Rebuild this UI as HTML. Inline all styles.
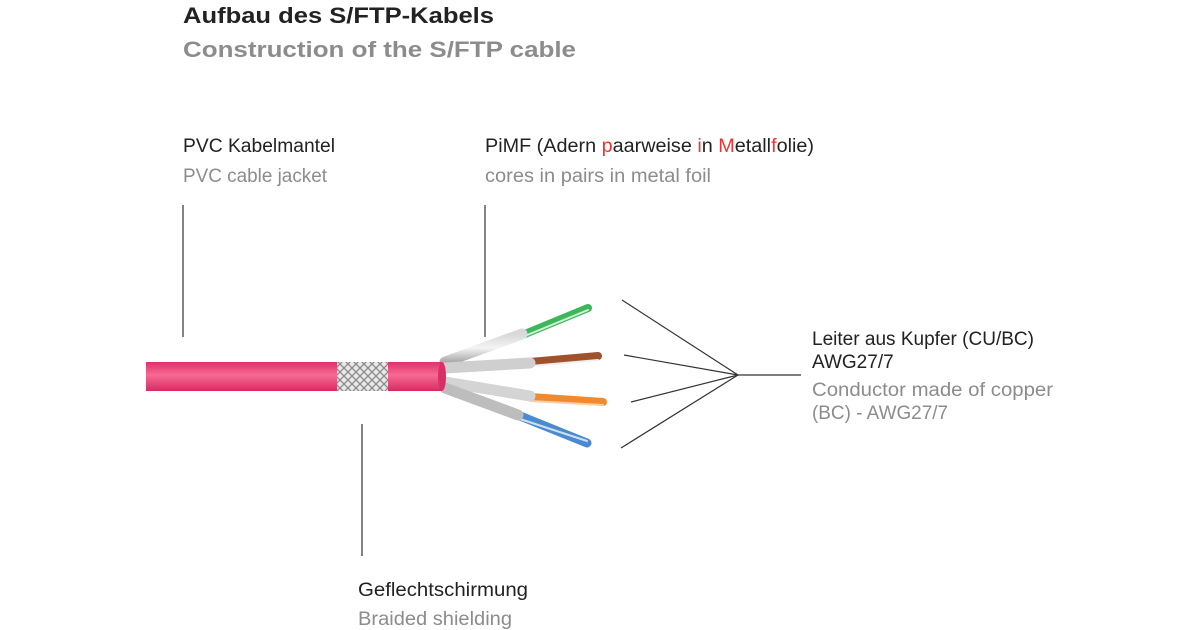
<!DOCTYPE html>
<html><head><meta charset="utf-8"><style>
html,body{margin:0;padding:0;background:#fff;width:1200px;height:630px;overflow:hidden}
text{font-family:"Liberation Sans",sans-serif}
</style></head><body>
<svg width="1200" height="630" viewBox="0 0 1200 630" xmlns="http://www.w3.org/2000/svg">
<defs>
<linearGradient id="pk" x1="0" y1="0" x2="0" y2="1">
<stop offset="0" stop-color="#e0306a"/><stop offset="0.45" stop-color="#f76a92"/><stop offset="1" stop-color="#d82a62"/>
</linearGradient>
<linearGradient id="sv" x1="0" y1="0" x2="0" y2="1">
<stop offset="0" stop-color="#d8d8d8"/><stop offset="0.5" stop-color="#f4f4f4"/><stop offset="1" stop-color="#a8a8a8"/>
</linearGradient>
<pattern id="br" width="8" height="8" patternUnits="userSpaceOnUse">
<rect width="8" height="8" fill="#e8e8e8"/><path d="M0 0L8 8M8 0L0 8" stroke="#8a8a8a" stroke-width="1.3"/>
</pattern>
</defs>
<text x="183" y="23" font-size="22" font-weight="bold" fill="#222" textLength="311" lengthAdjust="spacingAndGlyphs">Aufbau des S/FTP-Kabels</text>
<text x="183" y="57" font-size="22" font-weight="bold" fill="#8c8c8c" textLength="393" lengthAdjust="spacingAndGlyphs">Construction of the S/FTP cable</text>

<text x="183" y="152" font-size="19" fill="#222" textLength="152" lengthAdjust="spacingAndGlyphs">PVC Kabelmantel</text>
<text x="183" y="182" font-size="19" fill="#8c8c8c" textLength="144" lengthAdjust="spacingAndGlyphs">PVC cable jacket</text>
<text x="485" y="152" font-size="19" fill="#222" textLength="329" lengthAdjust="spacingAndGlyphs">PiMF (Adern <tspan fill="#e33">p</tspan>aarweise <tspan fill="#e33">i</tspan>n <tspan fill="#e33">M</tspan>etall<tspan fill="#e33">f</tspan>olie)</text>
<text x="485" y="182" font-size="19" fill="#8c8c8c" textLength="226" lengthAdjust="spacingAndGlyphs">cores in pairs in metal foil</text>
<text x="812" y="345" font-size="19" fill="#222" textLength="222" lengthAdjust="spacingAndGlyphs">Leiter aus Kupfer (CU/BC)</text>
<text x="812" y="368" font-size="19" fill="#222">AWG27/7</text>
<text x="812" y="396" font-size="19" fill="#8c8c8c" textLength="241" lengthAdjust="spacingAndGlyphs">Conductor made of copper</text>
<text x="812" y="419" font-size="19" fill="#8c8c8c" textLength="136" lengthAdjust="spacingAndGlyphs">(BC) - AWG27/7</text>
<text x="358" y="596" font-size="19" fill="#222" textLength="170" lengthAdjust="spacingAndGlyphs">Geflechtschirmung</text>
<text x="358" y="625" font-size="19" fill="#8c8c8c" textLength="154" lengthAdjust="spacingAndGlyphs">Braided shielding</text>

<g stroke="#333" stroke-width="1.2">
<line x1="183" y1="205" x2="183" y2="337"/>
<line x1="485" y1="205" x2="485" y2="337"/>
<line x1="362" y1="424" x2="362" y2="556"/>
<line x1="622" y1="300" x2="738" y2="375"/>
<line x1="624" y1="355" x2="738" y2="375"/>
<line x1="631" y1="402" x2="738" y2="375"/>
<line x1="621" y1="448" x2="738" y2="375"/>
<line x1="738" y1="375" x2="801" y2="375"/>
</g>

<g stroke-linecap="round" fill="none">
<path d="M445 362 L520 336 L588 308" stroke="#3cb85a" stroke-width="8"/>
<path d="M520 338 L588 310" stroke="#d8f0dc" stroke-width="2"/>
<path d="M445 368 L530 362 L598 356" stroke="#a0522d" stroke-width="8"/>
<path d="M530 366 L598 360" stroke="#eee" stroke-width="2"/>
<path d="M445 382 L530 397 L603 402" stroke="#f08a30" stroke-width="8"/>
<path d="M530 401 L603 405" stroke="#f6d0a8" stroke-width="2"/>
<path d="M445 388 L520 416 L587 443" stroke="#4a8ad0" stroke-width="9"/>
<path d="M520 419 L587 441" stroke="#cfe0f0" stroke-width="2"/>
<path d="M445 362 L522 334" stroke="url(#sv)" stroke-width="11"/>
<path d="M445 368 L530 363" stroke="#cfcfcf" stroke-width="11"/>
<path d="M445 382 L530 396" stroke="#d4d4d4" stroke-width="11"/>
<path d="M445 388 L518 415" stroke="#bdbdbd" stroke-width="11"/>
</g>
<rect x="146" y="362" width="296" height="29" fill="url(#pk)"/>
<ellipse cx="442" cy="376.5" rx="4" ry="14.5" fill="#d83066"/>
<rect x="337" y="362" width="51" height="29" fill="url(#br)"/>
</svg>
</body></html>
